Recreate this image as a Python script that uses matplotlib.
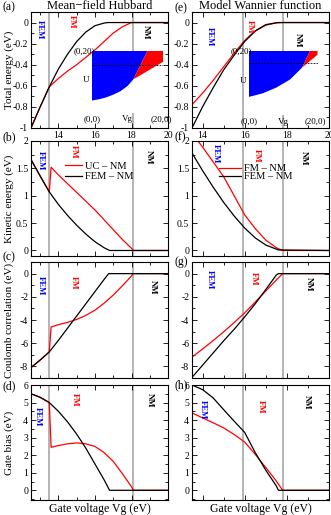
import matplotlib
matplotlib.use('Agg')
import matplotlib.pyplot as plt
from matplotlib.ticker import MultipleLocator, FuncFormatter

plt.rcParams['font.family'] = ['Liberation Serif', 'DejaVu Serif']
plt.rcParams['axes.unicode_minus'] = False

# ---- Mean-field Hubbard (left column) ----
mf_etot_fem_x = [12.5, 13.0, 13.5, 14.0, 14.5, 15.0, 15.5, 16.0, 16.5, 16.7, 20.0]
mf_etot_fem = [-1.0, -0.80, -0.61, -0.44, -0.30, -0.18, -0.09, -0.03, -0.005, 0.0, 0.0]
mf_etot_uc_x = [12.5, 13.0, 13.5, 14.0, 14.5, 15.0, 15.5, 16.0, 16.5, 17.0, 17.5, 18.0, 20.0]
mf_etot_uc = [-1.0, -0.80, -0.61, -0.53, -0.46, -0.40, -0.33, -0.26, -0.18, -0.10, -0.04, 0.0, 0.0]

mf_ekin_fem_x = [12.5, 13.0, 13.5, 14.0, 14.5, 15.0, 15.5, 16.0, 16.5, 16.8, 20.0]
mf_ekin_fem = [1.66, 1.36, 1.07, 0.84, 0.64, 0.46, 0.30, 0.16, 0.05, 0.0, 0.0]
mf_uc_x = [12.5, 13.0, 13.5, 13.6, 14.0, 14.5, 15.0, 15.5, 16.0, 16.5, 17.0, 17.5, 18.0, 18.1, 20.0]
mf_ekin_uc = [1.66, 1.36, 1.07, 1.52, 1.38, 1.22, 1.06, 0.90, 0.74, 0.56, 0.38, 0.20, 0.04, 0.0, 0.0]

mf_ecor_fem_x = [12.5, 13.0, 13.5, 14.0, 14.5, 15.0, 15.5, 16.0, 16.5, 16.75, 20.0]
mf_ecor_fem = [-8.1, -7.45, -6.75, -5.75, -4.7, -3.65, -2.6, -1.55, -0.5, 0.0, 0.0]
mf_ecor_uc = [-8.1, -7.45, -6.75, -4.6, -4.4, -4.2, -3.95, -3.6, -3.15, -2.55, -1.85, -1.05, -0.2, 0.0, 0.0]

mf_gate_fem_x = [12.5, 13.0, 13.5, 14.0, 14.5, 15.0, 15.5, 16.0, 16.5, 16.8, 20.0]
mf_gate_fem = [5.5, 5.3, 5.0, 4.5, 3.9, 3.2, 2.4, 1.5, 0.6, 0.0, 0.0]
mf_gate_uc = [5.5, 5.3, 5.0, 2.45, 2.55, 2.65, 2.7, 2.65, 2.5, 2.15, 1.65, 0.95, 0.2, 0.0, 0.0]

mf_bounds = [13.5, 18.1]

# ---- Model Wannier function (right column) ----
mw_fem_x = [13.5, 14.0, 14.5, 15.0, 15.5, 16.0, 16.5, 17.0, 17.5, 17.6, 20.0]
mw_fm_x = [13.5, 14.0, 14.5, 15.0, 15.5, 16.0, 16.5, 17.0, 17.5, 17.8, 20.0]
mw_etot_fem = [-1.0, -0.80, -0.62, -0.45, -0.31, -0.18, -0.08, -0.02, -0.002, 0.0, 0.0]
mw_etot_fm = [-0.78, -0.67, -0.55, -0.42, -0.29, -0.17, -0.08, -0.025, -0.003, 0.0, 0.0]
mw_ekin_fem = [1.78, 1.46, 1.16, 0.88, 0.63, 0.41, 0.23, 0.10, 0.025, 0.01, 0.0]
mw_ekin_fm = [2.14, 1.89, 1.62, 1.35, 1.00, 0.65, 0.40, 0.19, 0.05, 0.0, 0.0]
mw_ecor_fem = [-8.95, -7.9, -6.85, -5.8, -4.8, -3.73, -2.6, -1.37, -0.12, 0.0, 0.0]
mw_ecor_fm = [-7.2, -6.5, -5.78, -5.02, -4.22, -3.38, -2.45, -1.5, -0.55, 0.0, 0.0]
mw_gate_fem = [6.0, 5.74, 5.27, 4.6, 3.94, 3.3, 2.15, 1.15, 0.25, 0.0, 0.0]
mw_gate_fm = [4.41, 4.13, 3.85, 3.56, 3.18, 2.75, 2.05, 1.3, 0.53, 0.0, 0.0]

mw_bounds = [15.9, 17.8]

# ---- inset phase maps (Vg, U) ----
mf_blue_vg = [0, 0, 2, 4, 6, 8, 10, 11.6, 15.6]
mf_blue_u = [20, 4.0, 4.4, 5.0, 5.9, 7.0, 8.7, 10.8, 20]
mf_red_vg = [11.6, 15.6, 20, 20]
mf_red_u = [10.8, 20, 20, 16.5]
mf_dash_u = 15.5

mw_blue_vg = [0, 0, 4, 8, 12, 15.5, 17.8]
mw_blue_u = [20, 5.7, 6.8, 8.6, 11.1, 14.8, 20]
mw_red_vg = [15.5, 17.8, 20, 20]
mw_red_u = [14.8, 20, 20, 18.8]
mw_dash_u = 16.1

ylabels = ['Total energy (eV)', 'Kinetic energy (eV)', 'Coulomb correlation (eV)', 'Gate bias (eV)']
ylims = [(-1, 0.1), (-0.1, 2.0), (-9, 1), (-0.55, 6)]
ymajor = [0.2, 0.5, 2, 1]
yminor = [0.1, 0.25, 1, 0.5]

fig = plt.figure(figsize=(3.31, 5.15), dpi=100)

lefts = [0.0937, 0.580]
width = 0.414
bottoms = [0.7515, 0.503, 0.266, 0.0292]
heights = [0.2252, 0.2233, 0.2252, 0.2232]

fmt = FuncFormatter(lambda v, p: '%g' % (round(v, 6) + 0))

axes = [[None] * 4, [None] * 4]
for c in range(2):
    for r in range(4):
        ax = fig.add_axes([lefts[c], bottoms[r], width, heights[r]])
        ax.set_xlim(12.5 if c == 0 else 13.5, 20)
        ax.set_ylim(*ylims[r])
        ax.xaxis.set_major_locator(MultipleLocator(2))
        ax.xaxis.set_minor_locator(MultipleLocator(1))
        ax.yaxis.set_major_locator(MultipleLocator(ymajor[r]))
        ax.yaxis.set_minor_locator(MultipleLocator(yminor[r]))
        ax.yaxis.set_major_formatter(fmt)
        ax.tick_params(which='both', direction='in', top=True, right=True,
                       labelsize=7, pad=2, width=0.6)
        ax.tick_params(which='major', length=3.5)
        ax.tick_params(which='minor', length=2)
        if r != 0:
            ax.tick_params(labelbottom=False)
        for s in ax.spines.values():
            s.set_linewidth(0.8)
        if c == 0:
            ax.set_ylabel(ylabels[r], fontsize=8)
            ax.yaxis.set_label_coords(-0.125, 0.5)
        axes[c][r] = ax

vcol = '#a8a8a8'
lw = 0.9

series_left = [
    (mf_etot_uc_x, mf_etot_uc, mf_etot_fem_x, mf_etot_fem),
    (mf_uc_x, mf_ekin_uc, mf_ekin_fem_x, mf_ekin_fem),
    (mf_uc_x, mf_ecor_uc, mf_ecor_fem_x, mf_ecor_fem),
    (mf_uc_x, mf_gate_uc, mf_gate_fem_x, mf_gate_fem),
]
series_right = [
    (mw_fm_x, mw_etot_fm, mw_fem_x, mw_etot_fem),
    (mw_fm_x, mw_ekin_fm, mw_fem_x, mw_ekin_fem),
    (mw_fm_x, mw_ecor_fm, mw_fem_x, mw_ecor_fem),
    (mw_fm_x, mw_gate_fm, mw_fem_x, mw_gate_fem),
]

for c, (series, bounds) in enumerate([(series_left, mf_bounds), (series_right, mw_bounds)]):
    for r in range(4):
        ax = axes[c][r]
        for b in bounds:
            ax.axvline(b, color=vcol, lw=1.2, zorder=1)
        rx, ry, bx, by = series[r]
        l1, = ax.plot(rx, ry, color='red', lw=lw, zorder=2)
        l2, = ax.plot(bx, by, color='black', lw=lw, zorder=3)
        if r == 1:
            if c == 0:
                ax.legend([l1, l2], ['UC – NM', 'FEM – NM'], loc='upper left',
                          bbox_to_anchor=(0.25, 0.82), frameon=False, fontsize=7.5,
                          handlelength=1.6, handletextpad=0.3, labelspacing=0.1,
                          borderpad=0, borderaxespad=0)
            else:
                ax.legend([l1, l2], ['FM – NM', 'FEM – NM'], loc='upper left',
                          bbox_to_anchor=(0.2, 0.80), frameon=False, fontsize=7.5,
                          handlelength=2.1, handletextpad=0.3, labelspacing=-0.1,
                          borderpad=0, borderaxespad=0)

# phase labels (axes fraction positions)
phase_pos = {
    (0, 0): [(0.066, 0.93), (0.30, 0.97), (0.84, 0.89)],
    (0, 1): [(0.073, 0.91), (0.31, 0.965), (0.86, 0.92)],
    (0, 2): [(0.07, 0.88), (0.31, 0.88), (0.89, 0.845)],
    (0, 3): [(0.05, 0.81), (0.32, 0.93), (0.87, 0.93)],
    (1, 0): [(0.13, 0.87), (0.42, 0.93), (0.77, 0.82)],
    (1, 1): [(0.175, 0.97), (0.47, 0.93), (0.82, 0.91)],
    (1, 2): [(0.13, 0.93), (0.45, 0.91), (0.85, 0.87)],
    (1, 3): [(0.08, 0.87), (0.50, 0.87), (0.84, 0.91)],
}
phase_names = ['FEM', 'FM', 'NM']
phase_cols = ['blue', 'red', 'black']
for (c, r), pos in phase_pos.items():
    for (px, py), name, col in zip(pos, phase_names, phase_cols):
        axes[c][r].text(px, py, name, transform=axes[c][r].transAxes, rotation=-90,
                        ha='center', va='top', fontsize=6.3, fontweight='bold', color=col)

# panel labels
letters = [['(a)', '(b)', '(c)', '(d)'], ['(e)', '(f)', '(g)', '(h)']]
label_y = [[1.04, 1.03, 1.045, 0.99], [1.035, 1.03, 1.0, 1.0]]
label_x = [-0.21, -0.13]
for c in range(2):
    for r in range(4):
        axes[c][r].text(label_x[c], label_y[c][r], letters[c][r], transform=axes[c][r].transAxes,
                        ha='left', va='center', fontsize=8.5)

axes[0][0].set_title('Mean−field Hubbard', fontsize=9, pad=2)
axes[1][0].set_title('Model Wannier function', fontsize=9, pad=2)
axes[0][3].set_xlabel('Gate voltage Vg (eV)', fontsize=8.5, labelpad=0.5)
axes[1][3].set_xlabel('Gate voltage Vg (eV)', fontsize=8.5, labelpad=0.5)

# insets
insets = [
    (axes[0][0], [0.445, 0.13, 0.52, 0.535], mf_blue_vg, mf_blue_u, mf_red_vg, mf_red_u, mf_dash_u),
    (axes[1][0], [0.416, 0.11, 0.50, 0.555], mw_blue_vg, mw_blue_u, mw_red_vg, mw_red_u, mw_dash_u),
]
for parent, rect, bvg, bu, rvg, ru, du in insets:
    ins = parent.inset_axes(rect)
    ins.set_zorder(5)
    ins.set_xlim(0, 20)
    ins.set_ylim(0, 20)
    ins.set_xticks([])
    ins.set_yticks([])
    for s in ins.spines.values():
        s.set_visible(False)
    ins.fill(bvg, bu, color='#0000ff', lw=0)
    ins.fill(rvg, ru, color='#ff0000', lw=0)
    ins.axhline(du, color='black', lw=0.6, ls=(0, (2, 1.5)))
    kw = dict(fontsize=6.5, transform=ins.transAxes)
    ins.text(0.04, 1.0, '(0,20)', ha='right', va='center', **kw)
    ins.text(-0.08, 0.53, 'U', ha='center', va='center', **kw)
    ins.text(0.0, -0.1, '(0,0)', ha='center', va='center', **kw)
    ins.text(0.5, -0.1, 'Vg', ha='center', va='center', **kw)
    ins.text(0.97, -0.1, '(20,0)', ha='center', va='center', **kw)

fig.savefig('out.png', dpi=100)
